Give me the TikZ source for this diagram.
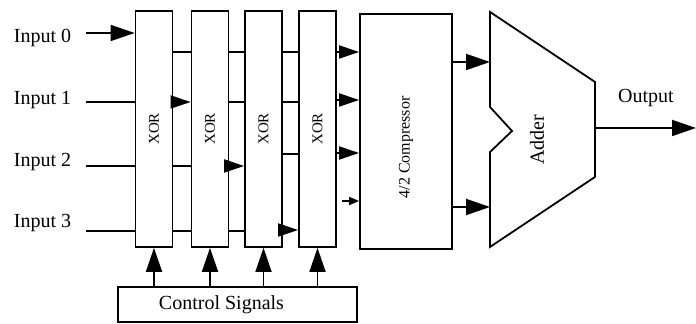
\documentclass[tikz,border=0pt]{standalone}
\usepackage{fontspec}
\setmainfont{Liberation Serif}
\usetikzlibrary{arrows.meta, positioning, calc}
\tikzset{
  every picture/.style={line width=0.9pt},
  xorbox/.style={draw, minimum width=18.5pt, minimum height=118pt, inner sep=0pt, font=\fontsize{7.5}{9}\selectfont},
  compbox/.style={draw, minimum width=46pt, minimum height=117.5pt, inner sep=0pt, font=\fontsize{8}{10}\selectfont},
  ctrlbox/.style={draw, minimum width=119.5pt, minimum height=17.5pt, inner sep=0pt},
  lbl/.style={inner sep=0pt},
  wire/.style={},
  arr/.style={-{Triangle[length=10pt, width=6.5pt]}},
  bigarr/.style={-{Triangle[length=12pt, width=8pt]}},
  tinyarr/.style={-{Triangle[length=5pt, width=4pt]}},
}

\begin{document}
\begin{tikzpicture}[x=0.5pt, y=-0.5pt]
  \useasboundingbox (0,0) rectangle (696,324);
  % xor stages, compressor, control
  \node[xorbox] (x1) at (154,129) {\rotatebox{90}{XOR}};
  \node[xorbox] (x2) at (210,129) {\rotatebox{90}{XOR}};
  \node[xorbox] (x3) at (263.5,129) {\rotatebox{90}{XOR}};
  \node[xorbox] (x4) at (317.5,129) {\rotatebox{90}{XOR}};
  \node[compbox] (comp) at (406,131.5) {\rotatebox{90}{4/2 Compressor\hspace{16pt}}};
  \node[ctrlbox] (ctrl) at (237.5,304.5) {Control Signals\hspace*{16pt}};
  % inputs
  \foreach \i/\ty/\ly in {0/38/33,1/100/102,2/162/166,3/223/231} {
    \node[lbl, anchor=west] (in\i) at (13,\ty) {Input \i};
    \coordinate (s\i) at (86,\ly);
  }
  \draw[bigarr] (s0) -- (s0 -| x1.west);
  \foreach \i in {1,2,3} \draw (s\i) -- (s\i -| x1.west);
  % wires between stages
  \foreach \y/\s in {52/wire,102/arr,166/wire,231/wire} \draw[\s] (x1.east |- 0,\y) -- (x2.west |- 0,\y);
  \foreach \y/\s in {52/wire,102/wire,166/arr,231/wire} \draw[\s] (x2.east |- 0,\y) -- (x3.west |- 0,\y);
  \foreach \y/\s in {52/wire,102/wire,154/wire,230/arr} \draw[\s] (x3.east |- 0,\y) -- (x4.west |- 0,\y);
  \foreach \y in {52,100,153} \draw[arr] (x4.east |- 0,\y) -- (comp.west |- 0,\y);
  \coordinate (c3) at (342,201);
  \draw[tinyarr] (c3) -- (c3 -| comp.west);
  \foreach \n in {x1,x2,x3,x4} \draw[bigarr] (ctrl.north -| \n.south) -- (\n.south);
  % adder
  \draw (490,12) -- (595,82) -- (595,177) -- (490,247) -- (490,152) -- (512,131) -- (490,107) -- cycle;
  \node[lbl] (add) at (537,140) {\rotatebox{90}{Adder}};
  \coordinate (ain1) at (490,62);
  \coordinate (ain2) at (490,207);
  \draw[bigarr] (comp.east |- ain1) -- (ain1);
  \draw[bigarr] (comp.east |- ain2) -- (ain2);
  \coordinate (aout) at (595,128);
  \coordinate (oend) at (696,128);
  \draw[bigarr] (aout) -- (oend);
  \node[lbl] (out) at (646,98) {Output};
\end{tikzpicture}
\end{document}
